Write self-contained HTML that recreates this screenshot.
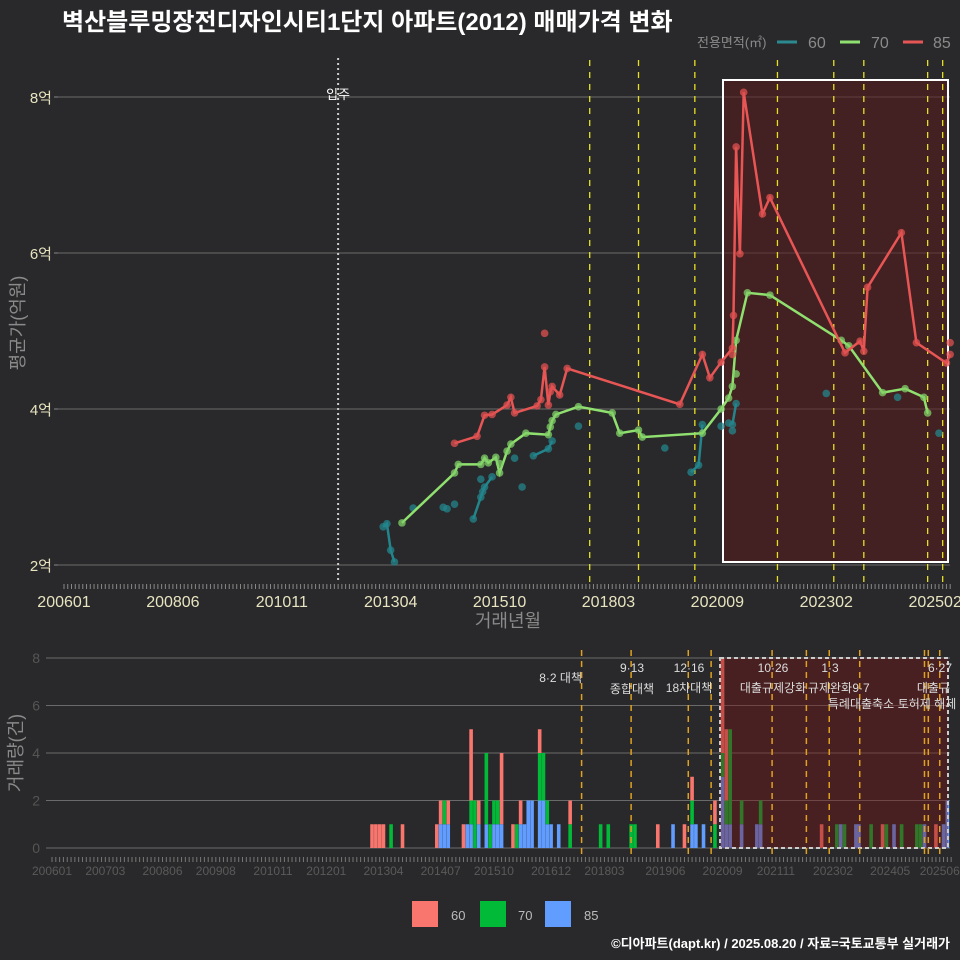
<!DOCTYPE html>
<html><head><meta charset="utf-8">
<style>
html,body{margin:0;padding:0;background:#29292b;}
svg{display:block;font-family:"Liberation Sans","Noto Sans CJK KR",sans-serif;}
</style></head>
<body>
<svg id="chart" width="960" height="960" viewBox="0 0 960 960">
<rect x="0" y="0" width="960" height="960" fill="#29292b"/>
<text x="62" y="30" fill="#ffffff" font-size="24" font-weight="bold">벽산블루밍장전디자인시티1단지 아파트(2012) 매매가격 변화</text>
<g>
<text x="697" y="47" fill="#8a8a8a" font-size="13">전용면적(㎡)</text>
<line x1="777" y1="42" x2="797" y2="42" stroke="#2a8a90" stroke-width="3"/><text x="808" y="48" fill="#8a8a8a" font-size="16">60</text>
<line x1="840" y1="42" x2="860" y2="42" stroke="#90e070" stroke-width="3"/><text x="871" y="48" fill="#8a8a8a" font-size="16">70</text>
<line x1="903" y1="42" x2="923" y2="42" stroke="#e85555" stroke-width="3"/><text x="933" y="48" fill="#8a8a8a" font-size="16">85</text>
</g>
<g id="gtop"></g>
<g id="gbot"></g>
<text x="508" y="627" fill="#8a8a8a" font-size="18" text-anchor="middle">거래년월</text>
<text transform="translate(24,323) rotate(-90)" fill="#8a8a8a" font-size="18" text-anchor="middle">평균가(억원)</text>
<text transform="translate(22,753) rotate(-90)" fill="#8a8a8a" font-size="18" text-anchor="middle">거래량(건)</text>
<g>
<rect x="412" y="901" width="26" height="26" fill="#F8766D"/><text x="451" y="920" fill="#bbbbbb" font-size="13">60</text>
<rect x="480" y="901" width="26" height="26" fill="#00BA38"/><text x="518" y="920" fill="#bbbbbb" font-size="13">70</text>
<rect x="545" y="901" width="26" height="26" fill="#619CFF"/><text x="584" y="920" fill="#bbbbbb" font-size="13">85</text>
</g>
<text x="950" y="948" fill="#ffffff" font-size="13" font-weight="bold" text-anchor="end">©디아파트(dapt.kr) / 2025.08.20 / 자료=국토교통부 실거래가</text>
</svg>
<script>
// ---- data (t = months since 2006-01) ----
const yTicks = [2,4,6,8];
const yTickLabels = ["2억","4억","6억","8억"];
const xTickMonths = [0,29,58,87,116,145,174,203,232];
const xTickLabels = ["200601","200806","201011","201304","201510","201803","202009","202302","202502"];
const bxTickMonths = [0,14,29,43,58,72,87,102,116,131,145,161,176,190,205,220,233];
const bxTickLabels = ["200601","200703","200806","200908","201011","201201","201304","201407","201510","201612","201803","201906","202009","202111","202302","202405","202506"];
const volTicks = [0,2,4,6,8];
const moveIn = 73;
const eventsTop = [140,153,168,190,205,213,230,234];
const eventsBottom = [139,152,167,173,189,198,204,212,229,230,233];
const line85 = [[104,3.56],[110,3.65],[112,3.92],[114,3.93],[118,4.05],[119,4.15],[120,3.95],[126,4.04],[127,4.12],[128,4.54],[129,4.05],[129.5,4.22],[130,4.29],[132,4.18],[134,4.52],[164,4.06],[170,4.70],[172,4.40],[175,4.60],[178,4.78],[178.3,5.2],[179,7.36],[180,5.99],[181,8.06],[186,6.5],[188,6.71],[208,4.72],[212,4.87],[213,4.74],[214,5.56],[223,6.26],[227,4.85],[235,4.59],[236,4.7]];
const extra85 = [[128,4.97],[236,4.85],[178,4.7]];
const line70 = [[90,2.54],[104,3.18],[105,3.29],[111,3.29],[112,3.37],[113,3.31],[115,3.38],[116,3.18],[118,3.46],[119,3.55],[123,3.69],[129,3.67],[129.5,3.77],[130,3.85],[131,3.93],[137,4.03],[146,3.95],[148,3.69],[153,3.73],[154,3.64],[170,3.69],[175,4.0],[177,4.14],[178,4.29],[179,4.88],[182,5.49],[188,5.46],[207,4.88],[209,4.81],[218,4.21],[224,4.26],[229,4.15],[230,3.95]];
const extra70 = [[116,3.3],[179,4.45]];
const line60Groups = [
 [[85,2.49],[86,2.53],[87,2.19],[88,2.04]],
 [[109,2.59],[111,2.87],[111.5,2.94],[112,3.0],[114,3.13]],
 [[125,3.4],[129,3.49],[130,3.59]],
 [[167,3.19],[169,3.28],[170,3.8]],
 [[178,3.8],[179,4.07]]
];
const extra60 = [[93,2.73],[101,2.74],[102,2.72],[104,2.78],[111,3.1],[120,3.37],[122,3.0],[137,3.78],[160,3.5],[175,3.78],[177,3.82],[178,3.72],[203,4.2],[222,4.15],[233,3.69]];
const volMonths = [84,85,86,87,89,92,101,102,103,104,108,109,110,111,112,113,114,115,116,117,118,121,122,123,124,125,126,128,129,130,131,133,136,144,146,152,153,159,163,166,168,169,171,174,176,177,178,181,185,186,202,206,207,208,211,211.8,215,218,219,221,223,227,228,229,232,234,235];
const vol60 = [1,1,1,1,0,1,1,1,0,1,1,0,3,0,1,0,0,0,0,0,3,1,0,1,0,0,0,1,0,0,0,0,1,0,0,0,0,1,0,1,1,0,0,1,4,3,0,0,0,0,1,0,0,0,0,0,0,1,0,0,0,0,0,0,1,0,0];
const vol70 = [0,0,0,0,1,0,0,0,1,0,0,0,1,2,0,0,3,1,1,1,0,0,1,0,0,0,0,2,2,1,0,0,1,1,1,1,1,0,0,0,1,0,0,1,1,1,4,1,0,1,0,1,0,1,0,0,1,0,1,0,1,1,1,0,0,0,0];
const vol85 = [0,0,0,0,0,0,0,1,1,1,0,1,1,0,1,0,1,0,1,1,1,0,0,1,1,2,2,2,2,1,1,1,0,0,0,0,0,0,1,0,1,1,1,0,3,1,1,1,1,1,0,0,1,0,1,1,0,0,0,1,0,0,0,1,0,1,2];

// ---- scales ----
const xT = t => 64 + t*3.755;
const yT = v => 565 - (v-2)*78;
const xB = t => 52 + t*3.81;
const yB = c => 848 - c*23.75;
const NS = "http://www.w3.org/2000/svg";
function mk(tag, parent, attrs){ const e=document.createElementNS(NS,tag); for(const k in attrs) e.setAttribute(k,attrs[k]); parent.appendChild(e); return e; }
const gTop = document.getElementById('gtop');
const gBot = document.getElementById('gbot');

// ---- top chart ----
yTicks.forEach((v,i)=>{
  const g = mk('line',gTop,{x1:58,x2:950,y1:yT(v),y2:yT(v),stroke:'#6a6a6a','stroke-width':1});
  
  
  mk('line',gTop,{x1:54,x2:58,y1:yT(v),y2:yT(v),stroke:'#888'});
  const tx = mk('text',gTop,{x:52,y:yT(v)+6,fill:'#e8e4c0','font-size':15,'text-anchor':'end'});
  tx.textContent = yTickLabels[i];
  
  
});
for(let t=0;t<=236;t++){ mk('line',gTop,{x1:xT(t),x2:xT(t),y1:584,y2:589,stroke:'#888','stroke-width':1}); }
xTickMonths.forEach((t,i)=>{
  const tx = mk('text',gTop,{x:xT(t),y:607,fill:'#e8e4c0','font-size':16,'text-anchor':'middle'});
  tx.textContent = xTickLabels[i];
  
  
});
const hb = mk('rect',gTop,{x:723,y:80,width:225,height:482,fill:'rgba(90,25,25,0.55)',stroke:'#ffffff','stroke-width':2});


const mv = mk('line',gTop,{x1:xT(moveIn),x2:xT(moveIn),y1:58,y2:582,stroke:'#cccccc','stroke-width':2,'stroke-dasharray':'2,3'});


const mvt = mk('text',gTop,{x:xT(moveIn),y:99,fill:'#ffffff','font-size':13,'text-anchor':'middle'});
mvt.textContent='입주';


eventsTop.forEach(t=>{
  const l = mk('line',gTop,{x1:xT(t),x2:xT(t),y1:60,y2:582,stroke:'#e6e020','stroke-width':1.3,'stroke-dasharray':'6,6'});
  
  
});
function pts(arr){ return arr.map(p=>xT(p[0]).toFixed(1)+','+yT(p[1]).toFixed(1)).join(' '); }
function dots(arr,color,name){
  arr.forEach(p=>{
    const c = mk('circle',gTop,{cx:xT(p[0]),cy:yT(p[1]),r:3.8,fill:color,'fill-opacity':0.75});
    
    
  });
}
line60Groups.forEach(gp=>{
  const pl = mk('polyline',gTop,{points:pts(gp),fill:'none',stroke:'#23858c','stroke-width':2.5});
  
  
  dots(gp,'#23858c','point-60');
});
dots(extra60,'#23858c','point-60');
const p70 = mk('polyline',gTop,{points:pts(line70),fill:'none',stroke:'#90e070','stroke-width':2.5});


dots(line70,'#80d068','point-70'); dots(extra70,'#80d068','point-70');
const p85 = mk('polyline',gTop,{points:pts(line85),fill:'none',stroke:'#e85555','stroke-width':2.5});


dots(line85,'#e05050','point-85'); dots(extra85,'#e05050','point-85');

// ---- bottom chart ----
volTicks.forEach(v=>{
  const g = mk('line',gBot,{x1:46,x2:950,y1:yB(v),y2:yB(v),stroke:'#6a6a6a','stroke-width':1});
  
  
  const tx = mk('text',gBot,{x:40,y:yB(v)+5,fill:'#555','font-size':14,'text-anchor':'end'});
  tx.textContent = v;
  
  
});
for(let t=0;t<=236;t++){ mk('line',gBot,{x1:xB(t),x2:xB(t),y1:857,y2:862,stroke:'#777','stroke-width':1}); }
bxTickMonths.forEach((t,i)=>{
  const tx = mk('text',gBot,{x:xB(t),y:875,fill:'#5a5a5a','font-size':12,'text-anchor':'middle'});
  tx.textContent = bxTickLabels[i];
  
  
});
volMonths.forEach((t,i)=>{
  const x = xB(t)-1.8;
  let base = 0;
  [[vol85[i],'#619CFF'],[vol70[i],'#00BA38'],[vol60[i],'#F8766D']].forEach(s=>{
    if(s[0]>0){
      const r = mk('rect',gBot,{x:x,y:yB(base+s[0]),width:3.6,height:s[0]*23.75,fill:s[1]});
      
      
      base += s[0];
    }
  });
});
const hb2 = mk('rect',gBot,{x:720,y:658,width:228,height:190,fill:'rgba(120,20,20,0.4)',stroke:'#cccccc','stroke-width':2,'stroke-dasharray':'4,3'});


eventsBottom.forEach(t=>{
  const l = mk('line',gBot,{x1:xB(t),x2:xB(t),y1:650,y2:858,stroke:'#e0a020','stroke-width':1.5,'stroke-dasharray':'6,5'});
  
  
});
const ann = [[582,682,"8·2 대책","end"],[632,672,"9·13","middle"],[632,693,"종합대책","middle"],[689,672,"12·16","middle"],[689,692,"18차대책","middle"],
 [773,672,"10·26","middle"],[773,692,"대출규제강화","middle"],[830,672,"1·3","middle"],[830,692,"규제완화","middle"],[861,692,"9·7","middle"],
 [861,708,"특례대출축소","middle"],[927,708,"토허제 해제","middle"],[940,672,"6·27","middle"],[950,692,"대출규","end"]];
ann.forEach(a=>{
  const tx = mk('text',gBot,{x:a[0],y:a[1],fill:'#dddddd','font-size':12,'text-anchor':a[3]});
  tx.textContent = a[2];
  
  
});
</script>
</body></html>
